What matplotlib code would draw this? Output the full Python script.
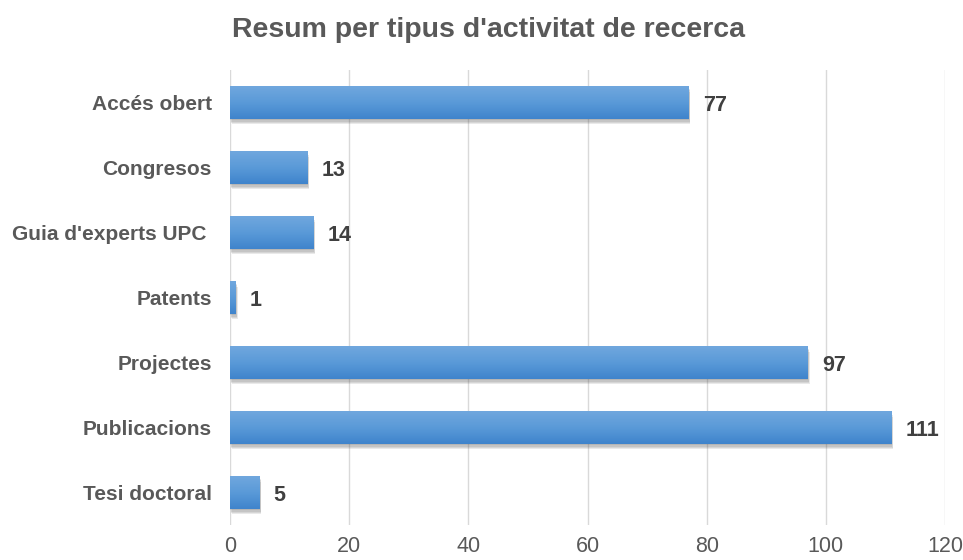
import numpy as np
import matplotlib.pyplot as plt
import matplotlib.patheffects as pe
from matplotlib.colors import LinearSegmentedColormap

categories = ["Accés obert", "Congresos", "Guia d'experts UPC ", "Patents",
              "Projectes", "Publicacions", "Tesi doctoral"]
values = [77, 13, 14, 1, 97, 111, 5]
xticks = [0, 20, 40, 60, 80, 100, 120]

plt.rcParams['font.family'] = ['Liberation Sans', 'DejaVu Sans']

fig = plt.figure(figsize=(9.63, 5.6), dpi=100)
ax = fig.add_axes([230 / 963, 35 / 560, 715 / 963, 455 / 560])

# soft drop shadow: a few stacked, faint offset copies
shadow = [pe.SimplePatchShadow(offset=(dx, -dy), shadow_rgbFace="#555555", alpha=0.13)
          for dx, dy in [(0.3, 1.0), (0.6, 2.0), (0.9, 3.0), (1.2, 4.0)]]

y = np.arange(len(categories))
bars = ax.barh(y, values, height=0.5, color="#5b9bd5", zorder=3,
               path_effects=shadow + [pe.Normal()])

# vertical gradient inside each bar
cmap = LinearSegmentedColormap.from_list("bar", ["#70a7de", "#5a9ad8", "#3f84cc"])
grad = np.linspace(0, 1, 64).reshape(-1, 1)
for b in bars:
    x0, y0 = b.get_x(), b.get_y()
    w, h = b.get_width(), b.get_height()
    im = ax.imshow(grad, cmap=cmap, aspect="auto", extent=(x0, x0 + w, y0 + h, y0),
                   origin="upper", zorder=4)
    im.set_clip_path(b)

for yi, v in zip(y, values):
    ax.annotate(str(v), (v, yi), xytext=(10, 0), textcoords="offset points",
                va="center_baseline", ha="left", fontsize=15.5, fontweight="bold", color="#404040")

ax.set_xlim(0, 120)
ax.set_ylim(len(categories) - 0.5, -0.5)
ax.set_xticks(xticks)
ax.set_yticks(y)
ax.set_yticklabels(categories, fontsize=15, fontweight="bold", color="#595959")
ax.tick_params(axis="x", labelsize=15.5, colors="#595959", length=0, pad=8)
ax.tick_params(axis="y", length=0, pad=13)
ax.grid(axis="x", color="#d9d9d9", linewidth=1, zorder=0)
ax.set_axisbelow(True)
for s in ax.spines.values():
    s.set_visible(False)

fig.suptitle("Resum per tipus d'activitat de recerca", x=489 / 963, y=1 - 30 / 560,
             va="center", fontsize=20.5, fontweight="bold", color="#595959")

fig.savefig("out.png", dpi=100)
